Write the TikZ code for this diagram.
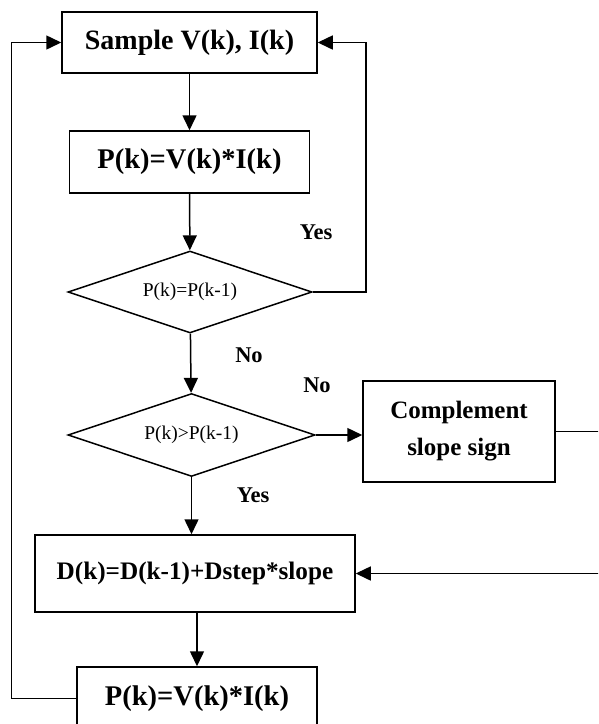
\documentclass[tikz,border=0pt]{standalone}
\usepackage{fontspec}
\setmainfont{Liberation Serif}
\usetikzlibrary{shapes.geometric,arrows.meta}

\begin{document}
\begin{tikzpicture}[x=1pt, y=-1pt,
    line/.style={line width=1.5pt},
    arr/.style={line, -{Triangle[length=15pt, width=14pt]}},
    box/.style={draw, line width=1.5pt, rectangle, inner sep=0pt, align=center, font=\bfseries\fontsize{26}{37}\selectfont},
    decision/.style={draw, line width=1.5pt, diamond, aspect=3, inner sep=0pt, font=\fontsize{19.5}{22}\selectfont},
    lbl/.style={font=\bfseries\fontsize{22.5}{24}\selectfont}]
    \path[use as bounding box] (0,0) rectangle (598,724);
    \clip (0,0) rectangle (598,724);
    % boxes and decisions
    \node[box, minimum width=255pt, minimum height=61pt, font=\bfseries\fontsize{28}{30}\selectfont] (sample) at (189.5,42.5) {Sample V(k), I(k)};
    \node[box, minimum width=240pt, minimum height=62pt, font=\bfseries\fontsize{28.5}{30}\selectfont] (power) at (189.5,162) {P(k)=V(k)*I(k)};
    \node[decision, minimum width=244pt, minimum height=82pt] (equal) at (190,292) {P(k)=P(k-1)};
    \node[decision, minimum width=247pt, minimum height=83pt] (greater) at (191.5,435) {P(k)>P(k-1)};
    \node[box, minimum width=192pt, minimum height=101pt, font=\bfseries\fontsize{25}{37}\selectfont] (compl) at (459,431.5) {Complement\\slope sign};
    \node[box, minimum width=320pt, minimum height=77pt, font=\bfseries\fontsize{25.2}{30}\selectfont] (duty) at (195,573.5) {D(k)=D(k-1)+Dstep*slope};
    \node[box, minimum width=240pt, minimum height=63pt, font=\bfseries\fontsize{28.5}{30}\selectfont] (power2) at (197,698.5) {P(k)=V(k)*I(k)};
    % connectors
    \draw[arr] (sample) -- (power);
    \draw[arr] (power) -- (equal);
    \draw[arr] (equal) -- (greater);
    \draw[arr] (greater.east) -- (greater.east -| compl.west);
    \draw[arr] (greater.south) -- (greater.south |- duty.north);
    \draw[arr] (duty.south -| power2) -- (power2);
    \draw[arr] (equal.east) -- ++(53,0) |- (sample.east);
    \draw[arr] (compl.east) -- ++(60,0) |- (duty.east);
    \draw[arr] (power2.west) -- ++(-65,0) |- (sample.west);
    % labels
    \node[lbl] at (316,232) {Yes};
    \node[lbl] at (249,355) {No};
    \node[lbl] at (317,385) {No};
    \node[lbl] at (253,495) {Yes};
\end{tikzpicture}
\end{document}
